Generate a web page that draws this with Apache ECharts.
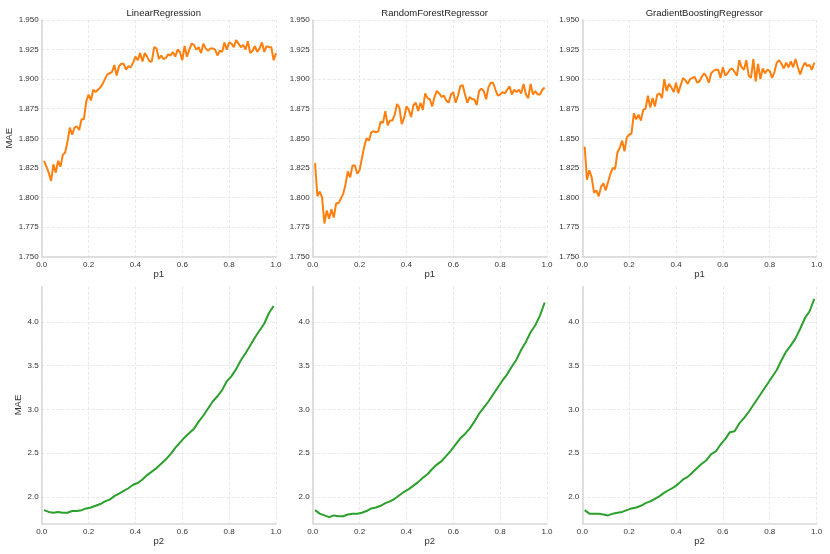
<!DOCTYPE html>
<html>
<head>
<meta charset="utf-8">
<script src="https://cdn.jsdelivr.net/npm/echarts@6/dist/echarts.min.js"></script>
<style>
  html, body { margin: 0; padding: 0; background: #fff; }
  #main { width: 830px; height: 554px; }
</style>
</head>
<body>
<div id="main"></div>
<script>
// 模型名称
var modelNames = ['LinearRegression', 'RandomForestRegressor', 'GradientBoostingRegressor'];

// p1 曲线 (步长 0.01, 从 0.01 开始)
var lrP1 = [1.831, 1.826, 1.821, 1.814, 1.828, 1.821, 1.831, 1.826, 1.836, 1.838,
    1.847, 1.859, 1.853, 1.859, 1.860, 1.857, 1.866, 1.866, 1.881, 1.887,
    1.882, 1.891, 1.889, 1.891, 1.893, 1.896, 1.900, 1.904, 1.905, 1.906,
    1.912, 1.903, 1.911, 1.913, 1.913, 1.908, 1.911, 1.910, 1.914, 1.919,
    1.916, 1.922, 1.915, 1.922, 1.919, 1.915, 1.915, 1.927, 1.926, 1.917,
    1.920, 1.917, 1.918, 1.921, 1.920, 1.923, 1.919, 1.925, 1.923, 1.916,
    1.928, 1.919, 1.925, 1.930, 1.929, 1.925, 1.927, 1.922, 1.930, 1.926,
    1.924, 1.926, 1.926, 1.925, 1.920, 1.924, 1.923, 1.931, 1.925, 1.931,
    1.930, 1.927, 1.933, 1.930, 1.927, 1.929, 1.925, 1.932, 1.922, 1.924,
    1.928, 1.923, 1.926, 1.931, 1.923, 1.928, 1.927, 1.927, 1.916, 1.922];
var rfP1 = [1.829, 1.801, 1.805, 1.800, 1.778, 1.789, 1.782, 1.790, 1.783, 1.795,
    1.795, 1.799, 1.803, 1.811, 1.822, 1.817, 1.827, 1.827, 1.820, 1.823,
    1.833, 1.843, 1.850, 1.848, 1.855, 1.856, 1.855, 1.856, 1.864, 1.863,
    1.873, 1.861, 1.865, 1.865, 1.870, 1.879, 1.876, 1.862, 1.867, 1.877,
    1.874, 1.868, 1.878, 1.880, 1.873, 1.880, 1.874, 1.888, 1.884, 1.883,
    1.877, 1.885, 1.890, 1.888, 1.885, 1.886, 1.882, 1.880, 1.887, 1.889,
    1.880, 1.886, 1.894, 1.895, 1.887, 1.880, 1.885, 1.883, 1.883, 1.878,
    1.890, 1.892, 1.890, 1.883, 1.893, 1.897, 1.897, 1.891, 1.886, 1.887,
    1.889, 1.888, 1.891, 1.894, 1.887, 1.891, 1.889, 1.891, 1.888, 1.896,
    1.887, 1.884, 1.896, 1.887, 1.890, 1.887, 1.887, 1.891, 1.893];
var gbP1 = [1.843, 1.815, 1.823, 1.817, 1.804, 1.806, 1.801, 1.809, 1.812, 1.806,
    1.813, 1.820, 1.825, 1.824, 1.838, 1.842, 1.848, 1.839, 1.851, 1.853,
    1.854, 1.871, 1.866, 1.870, 1.865, 1.874, 1.875, 1.886, 1.876, 1.884,
    1.877, 1.887, 1.888, 1.884, 1.900, 1.890, 1.896, 1.893, 1.889, 1.897,
    1.888, 1.895, 1.901, 1.899, 1.896, 1.900, 1.901, 1.902, 1.897, 1.898,
    1.902, 1.905, 1.902, 1.897, 1.905, 1.907, 1.908, 1.908, 1.901, 1.910,
    1.903, 1.905, 1.908, 1.909, 1.906, 1.903, 1.916, 1.910, 1.908, 1.916,
    1.903, 1.901, 1.917, 1.898, 1.913, 1.900, 1.909, 1.905, 1.908, 1.907,
    1.901, 1.906, 1.914, 1.916, 1.913, 1.909, 1.914, 1.910, 1.915, 1.910,
    1.917, 1.910, 1.904, 1.910, 1.914, 1.911, 1.912, 1.908, 1.914];

// p2 曲线 (步长 0.02, 从 0.01 开始)
var lrP2 = [1.85, 1.83, 1.82, 1.83, 1.82, 1.82, 1.84, 1.84, 1.85, 1.87,
    1.88, 1.90, 1.92, 1.95, 1.97, 2.01, 2.04, 2.07, 2.10, 2.14,
    2.16, 2.20, 2.25, 2.29, 2.33, 2.38, 2.43, 2.49, 2.56, 2.62,
    2.68, 2.73, 2.78, 2.86, 2.93, 3.01, 3.09, 3.15, 3.22, 3.32,
    3.38, 3.46, 3.56, 3.64, 3.73, 3.82, 3.90, 3.98, 4.10, 4.18];
var rfP2 = [1.85, 1.81, 1.79, 1.77, 1.79, 1.78, 1.78, 1.80, 1.81, 1.81,
    1.82, 1.84, 1.87, 1.88, 1.90, 1.93, 1.95, 1.98, 2.02, 2.06,
    2.09, 2.13, 2.17, 2.22, 2.26, 2.32, 2.37, 2.41, 2.47, 2.53,
    2.60, 2.67, 2.72, 2.78, 2.86, 2.95, 3.02, 3.09, 3.17, 3.25,
    3.33, 3.40, 3.49, 3.57, 3.68, 3.77, 3.88, 3.96, 4.07, 4.22];
var gbP2 = [1.85, 1.81, 1.81, 1.81, 1.80, 1.79, 1.81, 1.82, 1.83, 1.85,
    1.87, 1.88, 1.90, 1.93, 1.95, 1.98, 2.01, 2.05, 2.08, 2.11,
    2.15, 2.20, 2.23, 2.28, 2.33, 2.38, 2.42, 2.49, 2.52, 2.60,
    2.66, 2.74, 2.75, 2.84, 2.90, 2.97, 3.05, 3.13, 3.21, 3.29,
    3.37, 3.45, 3.56, 3.66, 3.73, 3.81, 3.92, 4.04, 4.12, 4.26];

// 坐标刻度
var p2Ticks = [2.0, 2.5, 3.0, 3.5, 4.0];

var FONT = 'Liberation Sans';
var gridLefts = [41.7, 312.7, 582.3];

function toPairs(arr, step, start) {
    return arr.map(function (v, i) { return [+(start + i * step).toFixed(3), v]; });
}

var grids = [], xAxes = [], yAxes = [], series = [];
var rows = [
    { data: [lrP1, rfP1, gbP1], step: 0.01, start: 0.01, color: '#ff7f0e', name: 'p1', top: 20, xGap: 13 },
    { data: [lrP2, rfP2, gbP2], step: 0.02, start: 0.01, color: '#2ca02c', name: 'p2', top: 286.7, xGap: 13 }
];
rows.forEach(function (row, r) {
    for (var c = 0; c < 3; c++) {
        var idx = grids.length;
        grids.push({ left: gridLefts[c], top: row.top, width: 234.3, height: 236.6 });
        xAxes.push({
            gridIndex: idx, type: 'value', min: 0, max: 1, interval: 0.2,
            name: row.name, nameLocation: 'middle', nameGap: row.xGap,
            nameTextStyle: { fontFamily: FONT, fontSize: 9.5, color: '#333' },
            axisLine: { lineStyle: { color: '#d6d6d6', width: 1.5 } },
            axisTick: { show: false },
            axisLabel: { fontFamily: FONT, fontSize: 8, color: '#333', margin: 4,
                formatter: function (v) { return v.toFixed(1); } },
            splitLine: { show: true, lineStyle: { color: '#e2e2e2', type: [3, 2], width: 0.8 } }
        });
        var y = {
            gridIndex: idx, type: 'value',
            name: c === 0 ? 'MAE' : '', nameLocation: 'middle', nameRotate: 90,
            nameTextStyle: { fontFamily: FONT, fontSize: 9.5, color: '#333' },
            axisLine: { show: true, lineStyle: { color: '#d6d6d6', width: 1.5 } },
            axisTick: { show: false },
            splitLine: { show: true, lineStyle: { color: '#e2e2e2', type: [3, 2], width: 0.8 } }
        };
        if (r === 0) {
            y.min = 1.75; y.max = 1.95; y.interval = 0.025; y.nameGap = 24;
            y.axisLabel = { fontFamily: FONT, fontSize: 8, color: '#333', margin: 3,
                formatter: function (v) { return v.toFixed(3); } };
        } else {
            y.min = 1.7; y.max = 4.4; y.nameGap = 16;
            y.axisTick = { show: false, customValues: p2Ticks };
            y.axisLabel = { fontFamily: FONT, fontSize: 8, color: '#333', margin: 3,
                customValues: p2Ticks,
                formatter: function (v) { return v.toFixed(1); } };
        }
        yAxes.push(y);
        series.push({
            type: 'line', xAxisIndex: idx, yAxisIndex: idx,
            data: toPairs(row.data[c], row.step, row.start),
            showSymbol: false, animation: false,
            lineStyle: { color: row.color, width: 2 }
        });
    }
});

var chart = echarts.init(document.getElementById('main'));
chart.setOption({
    backgroundColor: '#fff',
    animation: false,
    title: modelNames.map(function (n, i) {
        return { text: n, left: gridLefts[i] + 117, top: 3, textAlign: 'center',
            textStyle: { fontFamily: FONT, fontSize: 9.5, fontWeight: 'normal', color: '#222' } };
    }),
    grid: grids,
    xAxis: xAxes,
    yAxis: yAxes,
    series: series
});
window.onresize = chart.resize;
</script>
</body>
</html>
